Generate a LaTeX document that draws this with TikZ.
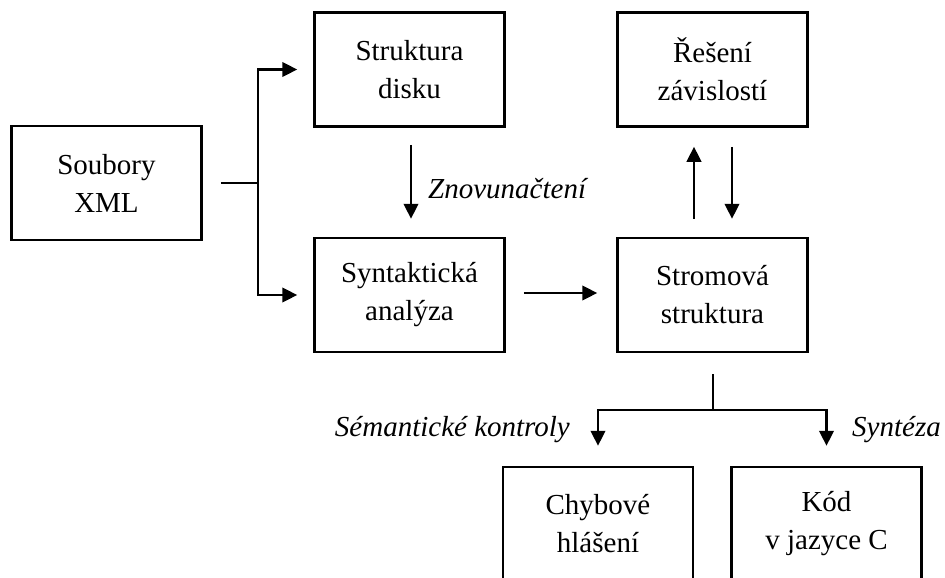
\documentclass[tikz,border=0pt]{standalone}
\usepackage{fontspec}
\setmainfont{Liberation Serif}
\usetikzlibrary{arrows.meta}
\begin{document}
\begin{tikzpicture}[x=1pt,y=-1pt,
  every node/.style={font=\fontsize{29}{38}\selectfont},
  box/.style={draw, line width=2.5pt, minimum width=190pt, minimum height=114pt,
    align=center, inner sep=0pt},
  lbl/.style={font=\fontsize{29}{38}\selectfont\itshape, inner sep=0pt},
  link/.style={line width=2.5pt},
  arr/.style={line width=2.5pt, -{Triangle[length=15pt,width=14.5pt]}}]
  \useasboundingbox (0,0) rectangle (945,578);
  \clip (0,0) rectangle (945,578);

  % processing stages
  \node[box] (xml)  at (106.5,183) {Soubory\\XML};
  \node[box] (disk) at (409.5,69.5) {Struktura\\disku};
  \node[box] (syn)  at (409.5,295) {Syntaktická\\analýza};
  \node[box] (dep)  at (712.5,69.5) {Řešení\\závislostí};
  \node[box] (tree) at (712.5,295) {Stromová\\struktura};
  \node[box] (err)  at (598,524) {Chybové\\hlášení};
  \node[box] (code) at (826.5,524) {Kód\\v jazyce C};

  % input split
  \coordinate (split) at (258,183);
  \draw[link, shorten <=18pt] (xml.east) -- (split);
  \draw[arr, shorten >=16pt] (split) |- (disk.west);
  \draw[arr, shorten >=16pt] (split) |- (syn.west);

  % reload and parse
  \draw[arr, shorten <=17pt, shorten >=18pt] ([xshift=1.5pt]disk.south) -- ([xshift=1.5pt]syn.north);
  \node[lbl, anchor=base west] (reload) at (428,198) {Znovunačtení};
  \draw[arr, shorten <=18pt, shorten >=19pt] ([yshift=2pt]syn.east) -- ([yshift=2pt]tree.west);

  % dependency resolution
  \draw[arr, shorten <=18pt, shorten >=19pt] ([xshift=-18.5pt]tree.north) -- ([xshift=-18.5pt]dep.south);
  \draw[arr, shorten <=19pt, shorten >=18pt] ([xshift=19.5pt]dep.south) -- ([xshift=19.5pt]tree.north);

  % output branches
  \coordinate (fork) at (713,410);
  \draw[link, shorten <=21pt] ([xshift=0.5pt]tree.south) -- (fork);
  \draw[arr, shorten >=20pt] (fork) -| (err.north);
  \draw[arr, shorten >=20pt] (fork) -| (code.north);
  \node[lbl, anchor=base east] (sem) at (570,436) {Sémantické kontroly};
  \node[lbl, anchor=base west] (synt) at (852,436) {Syntéza};
\end{tikzpicture}
\end{document}
